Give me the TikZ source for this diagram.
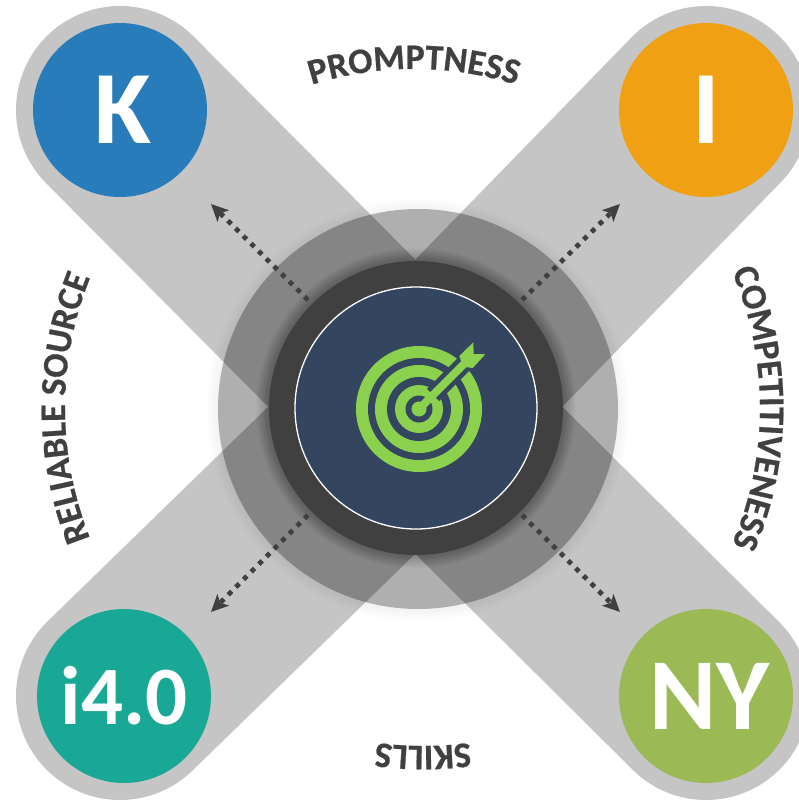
\documentclass[tikz,border=0pt]{standalone}
\usepackage{fontspec}
\setmainfont{Carlito}[BoldFeatures={FakeBold=0.6}]
\newfontfamily\bigfont{Carlito}
\usetikzlibrary{arrows.meta,decorations.text}
\definecolor{bandgray}{HTML}{C5C5C5}
\definecolor{darkring}{HTML}{404040}
\definecolor{navy}{HTML}{344560}
\definecolor{target}{HTML}{8CD14E}
\definecolor{kblue}{HTML}{277CB9}
\definecolor{iorange}{HTML}{F0A013}
\definecolor{fteal}{HTML}{1AA896}
\definecolor{nygreen}{HTML}{9BB955}
\tikzset{
  band/.style={draw=bandgray,line width=208pt,line cap=round},
  badge/.style={circle,minimum size=174pt,inner sep=0pt,text=white,font=\bigfont\bfseries\fontsize{#1}{#1}\selectfont},
  outarrow/.style={draw=darkring,line width=4.8pt,dash pattern=on 4.8pt off 6pt,-{Stealth[length=17pt,width=16pt,inset=4pt]}},
  curved/.style={decorate,decoration={text along path,text align=center,text color=darkring,
    text={|\fontsize{36}{36}\selectfont\bfseries|#1}}}
}
\begin{document}
\begin{tikzpicture}[x=1pt,y=-1pt]
\useasboundingbox (0,0) rectangle (799,805);
\begin{scope}
\clip (0,0) rectangle (799,805);
\coordinate (c) at (416,408);
\draw[band] (120,110) -- (c);
\draw[band] (706,110) -- (c);
\draw[band] (120,696) -- (c);
\draw[band] (706,696) -- (c);
\foreach \r in {201,202,...,212}
  \fill[black,opacity=.004] (418,410) circle (\r);
\fill[black,opacity=.28] (418,409) circle (200);
\foreach \r in {148,149,...,160}
  \fill[black,opacity=.02] (c) circle (\r);
\node[circle,fill=darkring,minimum size=294pt,inner sep=0pt] (hub) at (c) {};
\node[circle,fill=navy,draw=white,line width=1.3pt,minimum size=242pt,inner sep=0pt] (core) at (c) {};
\end{scope}
% target icon
\coordinate (t) at (419,409);
\fill[target] (t) circle (63);
\fill[navy] (t) circle (51);
\fill[target] (t) circle (44);
\fill[navy] (t) circle (32);
\fill[target] (t) circle (24);
\fill[navy] (t) circle (13.5);
\fill[target] (t) circle (7.5);
\draw[navy,line width=17pt] (t) ++(14,-14) -- (485,343);
\draw[target,line width=8pt] (t) -- (465,363);
\fill[target] (459.3,356) -- (473.3,342.3) -- (473.7,354) -- (485.3,354.3) -- (472.7,368) -- (463,366.7) -- cycle;
% badges
\node[badge=104,fill=kblue] (k) at (120,110) {\kern6pt\raisebox{-2pt}{K}};
\node[badge=104,fill=iorange] (i) at (706,110) {I};
\node[badge=83,fill=fteal] (f) at (124,696) {i4.0};
\node[badge=102,fill=nygreen] (ny) at (706,696) {\kern7pt NY};
% arrows
\coordinate (a1) at (308,300); \coordinate (b1) at (211,204);
\coordinate (a2) at (522,300); \coordinate (b2) at (620,204);
\coordinate (a3) at (308,515); \coordinate (b3) at (211,612);
\coordinate (a4) at (522,515); \coordinate (b4) at (620,612);
\draw[outarrow] (a1) -- (b1);
\draw[outarrow] (a2) -- (b2);
\draw[outarrow] (a3) -- (b3);
\draw[outarrow] (a4) -- (b4);
% curved labels
\path[curved={PROMPTNESS}] (414,408) ++(-120:339) arc[start angle=-120,end angle=-60,radius=339];
\path[curved={COMPETITIVENESS}] (416,408) ++(-30:344) arc[start angle=-30,end angle=30,radius=344];
\path[curved={SKILLS}] (423,408) ++(60:338) arc[start angle=60,end angle=120,radius=338];
\path[curved={RELIABLE SOURCE}] (416,408) ++(150:351) arc[start angle=150,end angle=210,radius=351];
\end{tikzpicture}
\end{document}
